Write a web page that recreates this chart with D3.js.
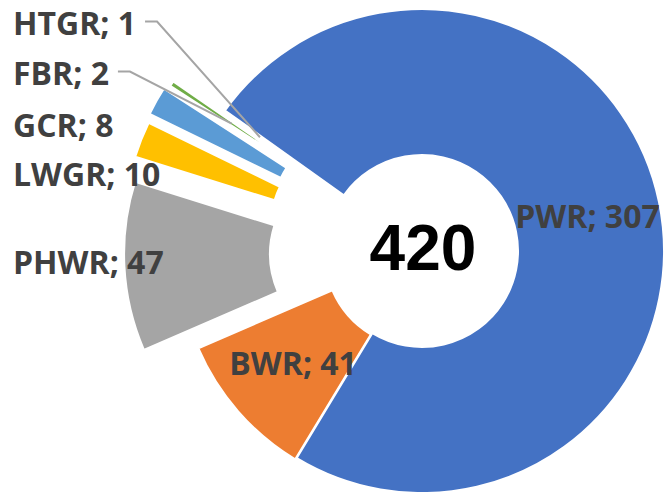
<!DOCTYPE html>
<html>
<head>
<meta charset="utf-8">
<script src="https://cdn.jsdelivr.net/npm/d3@7"></script>
<style>
  html, body { margin: 0; padding: 0; background: #ffffff; }
  svg { display: block; }
</style>
</head>
<body>
<svg id="chart" width="667" height="492"></svg>
<script>
// Reactor types and unit counts
const categories = ["PWR", "BWR", "PHWR", "LWGR", "GCR", "FBR", "HTGR"];
const reactorCounts = [307, 41, 47, 10, 8, 2, 1];
const totalLabel = "420";

// Styling per slice
const sliceColors = ["#4472C4", "#ED7D31", "#A5A5A5", "#FFC000", "#5B9BD5", "#70AD47", "#264478"];
const sliceExplode = [0, 2, 56, 60, 63, 60, 29];
const sliceStroke = [2, 2, 2, 2, 2, 4, 4];

// Label placement: "inside" labels sit on the slice centroid,
// "left" labels sit in a column at the left edge.
const labelMode = ["inside", "inside", "left", "left", "left", "left", "left"];
const leftColumnBaselines = { LWGR: 186, GCR: 137, FBR: 85, HTGR: 35 };
const leaderLabels = ["FBR", "HTGR"];

const W = 667, H = 492;
const cx = 422, cy = 251;
const outerR = 242, innerR = 96;
const startAngle = -54.5 * Math.PI / 180;
const labelFont = "'Open Sans', 'DejaVu Sans', sans-serif";
const labelSize = 32;
const capHalf = labelSize * 0.714 / 2;

const svg = d3.select("#chart");
const data = categories.map((c, i) => ({ category: c, value: reactorCounts[i], idx: i }));

const pie = d3.pie()
  .value(d => d.value)
  .sort(null)
  .startAngle(startAngle)
  .endAngle(startAngle + 2 * Math.PI);

const arcs = pie(data);
const arc = d3.arc().innerRadius(innerR).outerRadius(outerR);

function offsetOf(a) {
  const mid = (a.startAngle + a.endAngle) / 2;
  const d = sliceExplode[a.data.idx];
  return [d * Math.sin(mid), -d * Math.cos(mid)];
}

const g = svg.append("g").attr("transform", `translate(${cx},${cy})`);

// Slices (drawn from last to first so the large slice sits on top)
g.selectAll("path.slice")
  .data(arcs.slice().reverse())
  .join("path")
  .attr("class", "slice")
  .attr("d", arc)
  .attr("transform", a => { const o = offsetOf(a); return `translate(${o[0]},${o[1]})`; })
  .attr("fill", a => sliceColors[a.data.idx])
  .attr("stroke", "#ffffff")
  .attr("stroke-width", a => sliceStroke[a.data.idx])
  .attr("stroke-linejoin", "miter");

// Leader lines go under the labels
const leaderG = svg.append("g");
const labelG = svg.append("g");

arcs.forEach(a => {
  const name = a.data.category;
  const text = `${name}; ${a.data.value}`;
  const o = offsetOf(a);
  const c = arc.centroid(a);
  const px = cx + c[0] + o[0];
  const py = cy + c[1] + o[1];
  const mode = labelMode[a.data.idx];

  let t;
  if (mode === "inside") {
    t = labelG.append("text")
      .attr("x", px)
      .attr("y", py + capHalf)
      .attr("text-anchor", "middle");
  } else {
    const baseline = leftColumnBaselines[name] !== undefined ? leftColumnBaselines[name] : py + capHalf;
    t = labelG.append("text")
      .attr("x", 13)
      .attr("y", baseline)
      .attr("text-anchor", "start");
  }
  t.text(text)
    .attr("font-family", labelFont)
    .attr("font-weight", 700)
    .attr("font-size", labelSize)
    .attr("fill", "#404040");

  if (leaderLabels.includes(name)) {
    const len = t.node().getComputedTextLength();
    const x0 = 13 + len + 9;
    const y0 = +t.attr("y") - capHalf - 2;
    leaderG.append("polyline")
      .attr("points", [[x0, y0], [x0 + 12, y0], [px, py]].map(p => p.join(",")).join(" "))
      .attr("fill", "none")
      .attr("stroke", "#A5A5A5")
      .attr("stroke-width", 2);
  }
});

// Total in the hole
svg.append("text")
  .attr("x", cx + 1)
  .attr("y", 270)
  .attr("text-anchor", "middle")
  .attr("font-family", "'Liberation Sans', Arial, sans-serif")
  .attr("font-weight", 700)
  .attr("font-size", 64)
  .attr("fill", "#000000")
  .text(totalLabel);
</script>
</body>
</html>
